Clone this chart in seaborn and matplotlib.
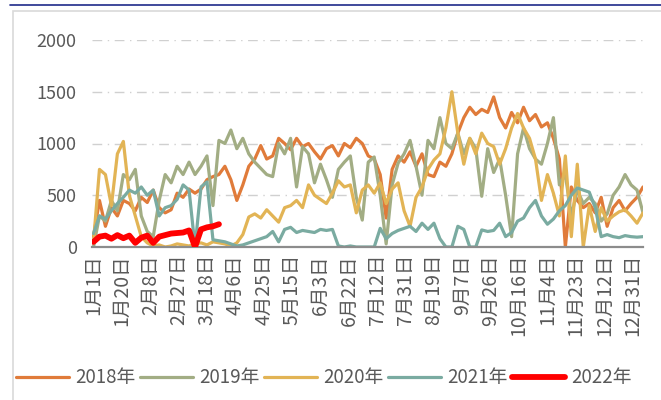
import pandas as pd
import numpy as np
import matplotlib
matplotlib.use("Agg")
import matplotlib.pyplot as plt
import seaborn as sns
from matplotlib.lines import Line2D
from matplotlib.patches import Rectangle

# dias do ano (passo de 4 dias) e valores
dias = list(range(0, 369, 4))

v2018 = [100, 450, 200, 380, 300, 450, 420, 350, 480, 430, 550, 380, 330, 360, 520, 480,
         560, 520, 560, 650, 680, 700, 780, 650, 450, 600, 780, 850, 980, 850, 880, 1050,
         1000, 940, 1050, 970, 1000, 920, 850, 950, 980, 880, 1000, 960, 1050, 1000, 880, 850,
         700, 280, 750, 880, 820, 920, 780, 900, 700, 680, 820, 780, 900, 1100, 1250, 1350,
         1280, 1330, 1300, 1450, 1250, 1150, 1300, 1200, 1350, 1220, 1280, 1160, 1200, 1050, 850, 0,
         580, 450, 380, 420, 330, 480, 200, 380, 450, 350, 420, 480, 580]

v2019 = [0, 300, 250, 450, 350, 700, 650, 750, 300, 150, 100, 450, 700, 620, 780, 700,
         820, 700, 780, 880, 400, 1030, 1000, 1130, 950, 1050, 900, 820, 760, 700, 680, 1000,
         900, 1050, 580, 970, 900, 620, 800, 650, 480, 750, 820, 880, 480, 260, 820, 870,
         500, 30, 600, 810, 900, 1030, 780, 500, 1030, 950, 1250, 1000, 950, 1100, 900, 1050,
         950, 490, 950, 720, 850, 500, 100, 900, 1150, 950, 850, 800, 1000, 1250, 600, 700,
         300, 550, 420, 480, 420, 250, 320, 500, 580, 700, 600, 550, 330]

v2020 = [50, 750, 700, 400, 900, 1020, 500, 300, 100, 40, 10, 20, 0, 10, 30, 20,
         10, 30, 40, 20, 50, 40, 30, 10, 40, 120, 290, 320, 280, 360, 300, 240,
         380, 400, 450, 380, 600, 500, 460, 420, 520, 640, 580, 600, 330, 550, 600, 520,
         620, 420, 560, 620, 350, 200, 480, 580, 750, 840, 900, 1150, 1500, 1100, 800, 1050,
         900, 1100, 1000, 970, 800, 950, 1150, 1290, 1150, 1050, 850, 450, 700, 520, 300, 880,
         100, 800, 0, 400, 150, 380, 250, 300, 340, 360, 300, 230, 330]

v2021 = [130, 300, 270, 350, 420, 480, 550, 520, 580, 500, 550, 300, 380, 400, 460, 600,
         550, 0, 580, 630, 70, 60, 50, 30, 10, 20, 40, 60, 80, 100, 150, 50,
         170, 190, 140, 160, 150, 140, 170, 160, 170, 10, 0, 10, 0, 0, 0, 0,
         180, 80, 130, 160, 180, 200, 150, 230, 170, 230, 80, 0, 0, 200, 170, 0,
         0, 165, 150, 160, 230, 100, 140, 250, 280, 380, 450, 300, 220, 270, 350, 400,
         500, 570, 550, 530, 380, 100, 120, 100, 90, 110, 100, 95, 100]

dias_2022 = list(range(0, 88, 4))
v2022 = [50, 100, 110, 80, 115, 85, 110, 40, 90, 110, 40, 100, 115, 130, 135, 140,
         160, 0, 170, 190, 200, 220]

anos = ['2018年', '2019年', '2020年', '2021年', '2022年']
cores = ['#E07B3A', '#A2AD84', '#E2B455', '#7AABA1', '#FF0000']

rotulos_x = ['1月1日', '1月20日', '2月8日', '2月27日', '3月18日', '4月6日', '4月25日',
             '5月15日', '6月3日', '6月22日', '7月12日', '7月31日', '8月19日', '9月7日',
             '9月26日', '10月16日', '11月4日', '11月23日', '12月12日', '12月31日']

# montar tabela longa
partes = []
for ano, vals in zip(anos[:4], [v2018, v2019, v2020, v2021]):
    partes.append(pd.DataFrame({'dia': dias, 'valor': vals, 'ano': ano}))
partes.append(pd.DataFrame({'dia': dias_2022, 'valor': v2022, 'ano': anos[4]}))
df = pd.concat(partes, ignore_index=True)

sns.set_style("white")
plt.rcParams['font.family'] = ['Noto Sans CJK SC', 'DejaVu Sans']

fig = plt.figure(figsize=(6.61, 4.0), dpi=100)
ax = fig.add_axes([92 / 661, 1 - 247 / 400, 551 / 661, 207 / 400])

paleta = dict(zip(anos, cores))
for ano in anos[:4]:
    sns.lineplot(data=df[df['ano'] == ano], x='dia', y='valor', color=paleta[ano],
                 lw=2.3, ax=ax, legend=False)
sns.lineplot(data=df[df['ano'] == anos[4]], x='dia', y='valor', color=paleta[anos[4]],
             lw=4.2, ax=ax, legend=False, zorder=5)

ax.set_xlim(-1, 368)
ax.set_ylim(0, 2000)
ax.set_yticks([0, 500, 1000, 1500, 2000])
ax.set_xticks(list(range(0, 362, 19)))
ax.set_xticklabels(rotulos_x, rotation=90, fontsize=14, color='#595959')
ax.tick_params(axis='y', labelsize=13, colors='#595959', length=0, pad=11)
ax.tick_params(axis='x', length=0, pad=5)
ax.set_xlabel('')
ax.set_ylabel('')
ax.yaxis.grid(True, color='#D0D0D0', lw=1, linestyle=(0, (7, 4, 1, 4)))
ax.xaxis.grid(False)
for lado in ['left', 'right', 'top']:
    ax.spines[lado].set_visible(False)
ax.spines['bottom'].set_color('#8C8C8C')
ax.spines['bottom'].set_linewidth(1.6)

# legenda
alcas = [Line2D([0], [0], color=c, lw=(4.2 if a == '2022年' else 2.3))
         for a, c in zip(anos, cores)]
fig.legend(alcas, anos, loc='center left', bbox_to_anchor=(16 / 661, 1 - 378 / 400),
           ncol=5, frameon=False, fontsize=13.5, handlelength=2.8, handletextpad=0.35,
           columnspacing=0.25, borderaxespad=0, borderpad=0, labelcolor='#595959')

# moldura
fig.add_artist(Rectangle((13 / 661, -0.01), 1.0, 1 - 11 / 400 + 0.01, transform=fig.transFigure,
                         fill=False, edgecolor='#D9D9D9', lw=1.2))
fig.add_artist(Line2D([10 / 661, 1], [1 - 5 / 400, 1 - 5 / 400], transform=fig.transFigure,
                      color='#1F2A8A', lw=1.2))

fig.savefig('out.png', dpi=100)
